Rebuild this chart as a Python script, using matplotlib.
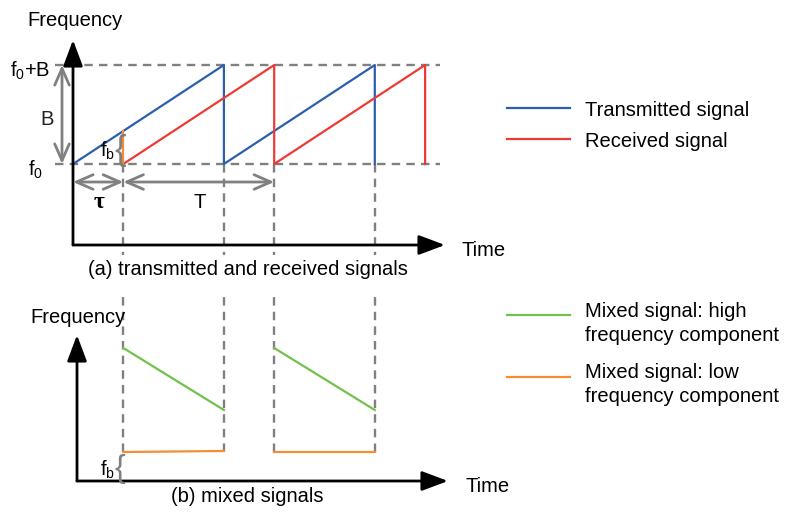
import matplotlib.pyplot as plt
from matplotlib.lines import Line2D

plt.rcParams['font.family'] = ['Liberation Sans', 'DejaVu Sans']
plt.rcParams['mathtext.fontset'] = 'custom'
plt.rcParams['mathtext.rm'] = 'Liberation Sans'
plt.rcParams['mathtext.it'] = 'Liberation Sans:italic'

# chirp timing (time units, T = 3, tau = 1), frequency relative to f0 (B = 1)
tx_t = [0, 3, 3, 6, 6]
tx_f = [0, 1, 0, 1, 0]
rx_t = [1, 4, 4, 7, 7]
rx_f = [0, 1, 0, 1, 0]
tau = 1
T = 3
fb_top = 1 / 3
mark_t = [1, 3, 4, 6]

# mixed signal components (arbitrary units)
hi_segments = [([1, 3], [1.33, 0.71]), ([4, 6], [1.33, 0.71])]
lo_segments = [([1, 3], [0.29, 0.30]), ([4, 6], [0.29, 0.29])]
fb_low = 0.29

BLUE = '#2b5fad'
RED = '#ee3a34'
GREEN = '#72c14b'
ORANGE = '#f68d32'
GREY = '#808080'

W, H = 790, 512
fig = plt.figure(figsize=(W / 100, H / 100), dpi=100)


def px(x, y):
    return x / W, 1 - y / H


def label(x, y, s, size=14.5, **kw):
    fx, fy = px(x, y)
    return fig.text(fx, fy, s, fontsize=size, va='baseline', **kw)


# ---- top panel: transmitted / received ----
ax1 = fig.add_axes([73 / W, 1 - 245 / H, 372 / W, 205 / H])
ax1.set_xlim(0, 372 / 50.3)
ax1.set_ylim(-81 / 99, 124 / 99)
ax1.axis('off')

dash = dict(color=GREY, lw=1.7, dashes=(3.6, 2.6), clip_on=False, zorder=1)
for f in [0, 1]:
    ax1.plot([-18 / 50.3, 367 / 50.3], [f, f], **dash)
for t in mark_t:
    ax1.plot([t, t], [0, -91 / 99], **dash)

ax1.plot(tx_t, tx_f, color=BLUE, lw=1.6, zorder=3)
ax1.plot(rx_t, rx_f, color=RED, lw=1.6, zorder=3)
ax1.plot([tau, tau], [0, fb_top], color=ORANGE, lw=1.6, zorder=4)

axis_arrow = dict(arrowstyle='-|>,head_length=0.8,head_width=0.3',
                  mutation_scale=20, lw=2, color='black', shrinkA=0, shrinkB=0)
ax1.annotate('', xy=(0, 1), xytext=(0, 0), xycoords='axes fraction',
             arrowprops=axis_arrow, annotation_clip=False)
ax1.annotate('', xy=(1, 0), xytext=(0, 0), xycoords='axes fraction',
             arrowprops=axis_arrow, annotation_clip=False)

dim_arrow = dict(arrowstyle='<->,head_length=0.8,head_width=0.35',
                 mutation_scale=15, lw=2, color=GREY, shrinkA=0, shrinkB=0)
ax1.annotate('', xy=(-11 / 50.3, 1), xytext=(-11 / 50.3, 0),
             arrowprops=dim_arrow, annotation_clip=False)
ax1.annotate('', xy=(tau, -18 / 99), xytext=(0, -18 / 99),
             arrowprops=dim_arrow, annotation_clip=False)
ax1.annotate('', xy=(tau + T, -18 / 99), xytext=(tau, -18 / 99),
             arrowprops=dim_arrow, annotation_clip=False)

# ---- bottom panel: mixed signals ----
ax2 = fig.add_axes([77 / W, 1 - 481 / H, 371 / W, 146 / H])
ax2.set_xlim(4 / 50.3, 375 / 50.3)
ax2.set_ylim(0, 1.46)
ax2.axis('off')

for t in mark_t:
    top = 1.88 if t == 1 else 1.86
    ax2.plot([t, t], [fb_low, top], **dash)
for ts, fs in hi_segments:
    ax2.plot(ts, fs, color=GREEN, lw=1.6, zorder=3)
for ts, fs in lo_segments:
    ax2.plot(ts, fs, color=ORANGE, lw=1.6, zorder=3)

ax2.annotate('', xy=(0, 1), xytext=(0, 0), xycoords='axes fraction',
             arrowprops=axis_arrow, annotation_clip=False)
ax2.annotate('', xy=(1, 0), xytext=(0, 0), xycoords='axes fraction',
             arrowprops=axis_arrow, annotation_clip=False)

# ---- text ----
label(27, 26, 'Frequency')
label(10, 77, r'f$_\mathrm{0}$+B')
label(47, 125, 'B', ha='center', color='#222222')
label(28, 176, r'f$_\mathrm{0}$')
label(100, 157, r'f$_\mathrm{b}$')
label(120, 160, '{', size=25, ha='center', color=GREY)
label(99, 208, 'τ', size=17, ha='center', fontweight='bold',
      family=['Liberation Serif', 'DejaVu Serif'])
label(200, 208, 'T', ha='center')
label(248, 275, '(a) transmitted and received signals', ha='center',
      bbox=dict(facecolor='white', edgecolor='none', pad=1))
label(462, 256, 'Time')

label(30, 323, 'Frequency')
label(100, 476, r'f$_\mathrm{b}$')
label(120, 477, '{', size=23, ha='center', color=GREY)
label(247, 502, '(b) mixed signals', ha='center')
label(466, 492, 'Time')

# ---- legend ----
legend_rows = [
    (108, BLUE, ['Transmitted signal'], [116]),
    (139, RED, ['Received signal'], [147]),
    (315, GREEN, ['Mixed signal: high', 'frequency component'], [317, 341]),
    (377, ORANGE, ['Mixed signal: low', 'frequency component'], [378, 402]),
]
for y, c, texts, bases in legend_rows:
    x0, y0 = px(507, y)
    x1, _ = px(570, y)
    fig.add_artist(Line2D([x0, x1], [y0, y0], color=c, lw=1.6))
    for s, b in zip(texts, bases):
        label(585, b, s)

fig.savefig('out.png', dpi=100)
